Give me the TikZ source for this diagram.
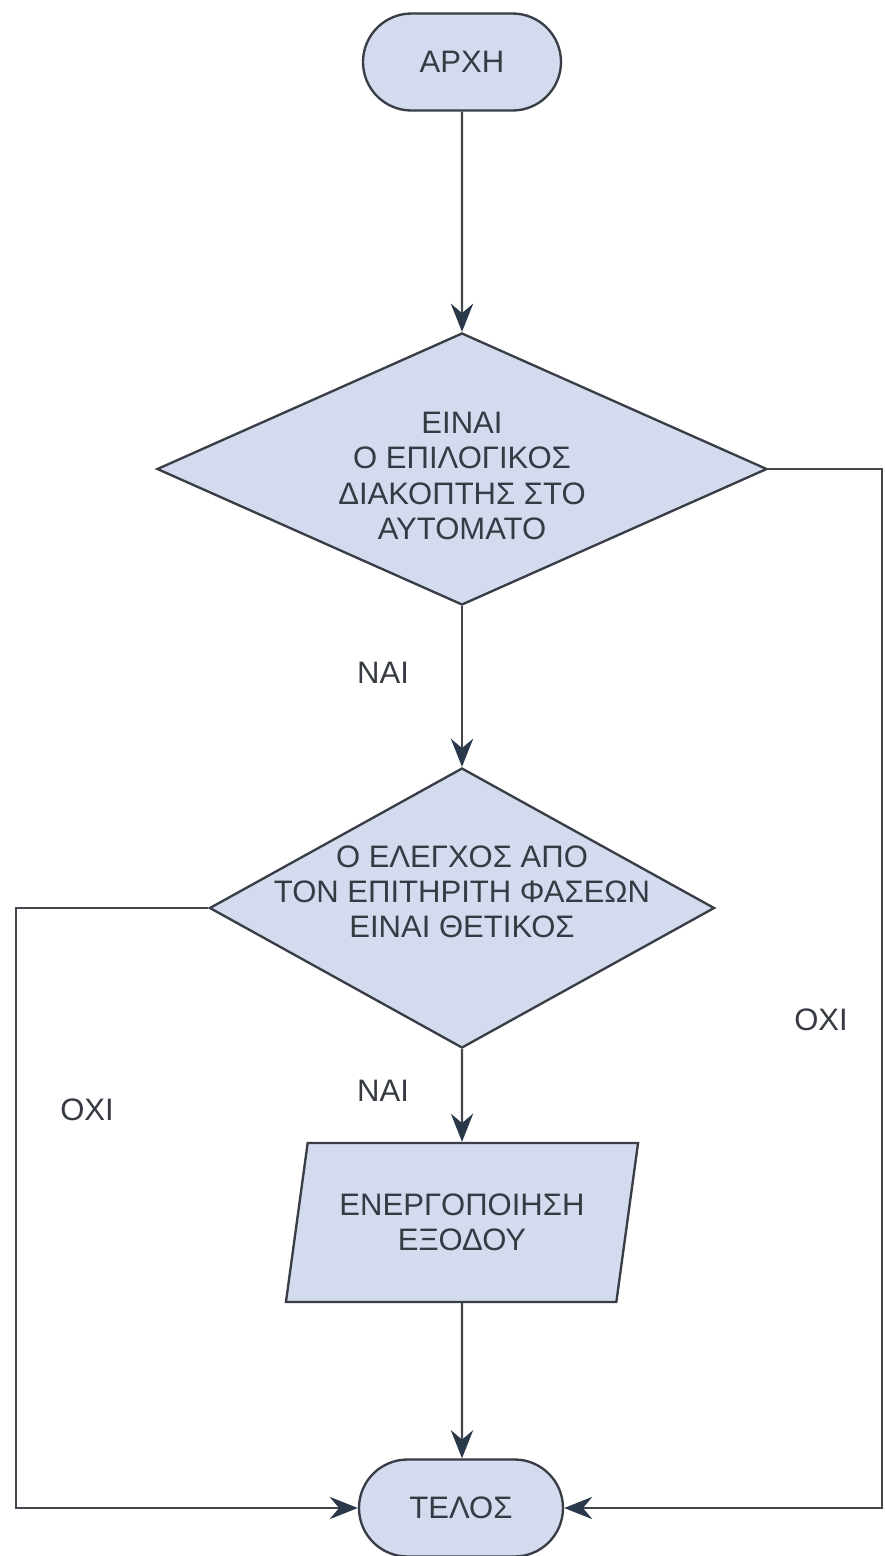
\documentclass[tikz,border=0pt]{standalone}
\usepackage{fontspec}
\setmainfont{Liberation Sans}
\usetikzlibrary{shapes.geometric,shapes.misc,arrows.meta}
\definecolor{boxfill}{HTML}{D4DBEF}
\definecolor{boxline}{HTML}{383D46}
\definecolor{wire}{HTML}{43474D}
\definecolor{tipcol}{HTML}{2A394A}
\definecolor{ink}{HTML}{363A42}
\begin{document}
\begin{tikzpicture}[x=0.03cm,y=-0.03cm,
  every node/.style={font=\fontsize{26.5}{30}\selectfont, text=ink},
  shapebox/.style={draw=boxline, line width=2pt, fill=boxfill, inner sep=0pt},
  terminal/.style={shapebox, rounded rectangle, minimum height=2.91cm},
  decision/.style={shapebox, diamond},
  iobox/.style={shapebox, trapezium, trapezium left angle=73.2,
    trapezium right angle=106.8, trapezium stretches=true, align=center},
  flow/.style={draw=wire, line width=1.9pt,
    -{Stealth[length=24pt, width=19pt, inset=8pt, color=tipcol]}},
  lbl/.style={align=center, inner sep=0pt}
]
% canvas
\path[use as bounding box] (0,0) rectangle (884,1556);
\fill[white] (0,0) rectangle (884,1556);

% rails for the two "no" branches
\coordinate (leftrail) at (16,0);
\coordinate (rightrail) at (882,0);

% flowchart blocks
\node[terminal, minimum width=5.94cm] (start) at (462,62) {ΑΡΧΗ};
\node[decision, minimum width=18.3cm, minimum height=8.16cm] (mode) at (462,469) {};
\node[lbl] (modetext) at (462,476) {ΕΙΝΑΙ\\Ο ΕΠΙΛΟΓΙΚΟΣ\\ΔΙΑΚΟΠΤΗΣ ΣΤΟ\\ΑΥΤΟΜΑΤΟ};
\node[decision, minimum width=15.15cm, minimum height=8.4cm] (phase) at (462,908) {};
\node[lbl] (phasetext) at (462,892) {Ο ΕΛΕΓΧΟΣ ΑΠΟ\\ΤΟΝ ΕΠΙΤΗΡΙΤΗ ΦΑΣΕΩΝ\\ΕΙΝΑΙ ΘΕΤΙΚΟΣ};
\node[iobox, minimum width=10.59cm, minimum height=4.77cm] (out) at (462,1222.5) {ΕΝΕΡΓΟΠΟΙΗΣΗ\\ΕΞΟΔΟΥ};
\node[terminal, minimum width=6.12cm] (end) at (461,1508) {ΤΕΛΟΣ};

% connectors
\draw[flow] (start) -- (mode);
\draw[flow] (mode) -- (phase);
\draw[flow] (phase) -- (out);
\draw[flow] (out) -- (out |- end.north);
\draw[flow] (mode.east) -- (mode.east -| rightrail) |- (end.east);
\draw[flow] (phase.west) -- (phase.west -| leftrail) |- (end.west);

% branch labels
\node (yes1) at (383,673) {ΝΑΙ};
\node (yes2) at (383,1091) {ΝΑΙ};
\node (no1) at (87,1110) {ΟΧΙ};
\node (no2) at (821,1020) {ΟΧΙ};
\end{tikzpicture}
\end{document}
